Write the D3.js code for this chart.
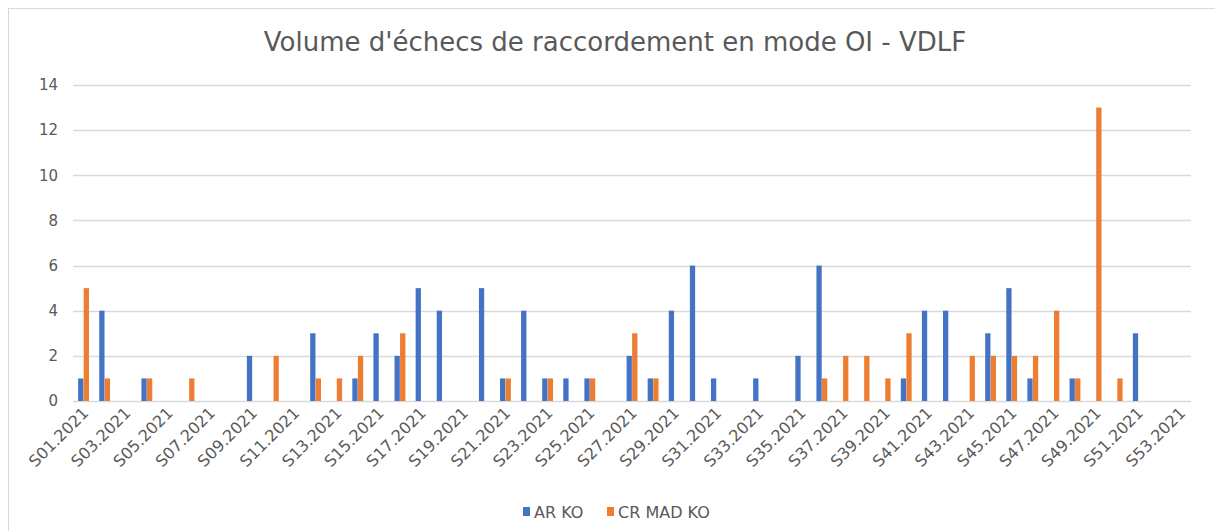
<!DOCTYPE html>
<html lang="fr">
<head>
<meta charset="UTF-8">
<title>Volume d'échecs de raccordement</title>
<script src="https://d3js.org/d3.v7.min.js"></script>
<style>
  body { margin: 0; background: #fff; }
  text { font-family: "DejaVu Sans", sans-serif; fill: #595959; }
</style>
</head>
<body>
<div id="chart"></div>
<script>
// weeks S01..S53 of 2021
const weeks = d3.range(1, 54).map(i => `S${String(i).padStart(2, '0')}.2021`);
const seriesNames = ['AR KO', 'CR MAD KO'];
const seriesColors = ['#4472C4', '#ED7D31'];

//                 S01                          S11                           S21                           S31                           S41                           S51
const arKo    = [1,4,0,1,0,0,0,0,2,0, 0,3,0,1,3,2,5,4,0,5, 1,4,1,1,1,0,2,1,4,6, 1,0,1,0,2,6,0,0,0,1, 4,4,0,3,5,1,0,1,0,0, 3,0,0];
const crMadKo = [5,1,0,1,0,1,0,0,0,2, 0,1,1,2,0,3,0,0,0,0, 1,0,1,0,1,0,3,1,0,0, 0,0,0,0,0,1,2,2,1,3, 0,0,2,2,2,2,4,1,13,1, 0,0,0];
const yTicks = [0, 2, 4, 6, 8, 10, 12, 14];

const width = 1215, height = 531;
const margin = {top: 85, right: 24, bottom: 131, left: 73};

const svg = d3.select('#chart').append('svg')
    .attr('width', width)
    .attr('height', height);

// chart frame
svg.append('rect')
    .attr('x', 8.5).attr('y', 8.5)
    .attr('width', width + 10).attr('height', height + 10)
    .attr('fill', '#fff')
    .attr('stroke', '#d9d9d9');

svg.append('text')
    .attr('x', 615).attr('y', 51)
    .attr('text-anchor', 'middle')
    .style('font-size', '26px')
    .text("Volume d'échecs de raccordement en mode OI - VDLF");

const x0 = d3.scaleBand()
    .domain(weeks)
    .range([margin.left, width - margin.right])
    .paddingInner(0.46)
    .paddingOuter(0.23);

const x1 = d3.scaleBand()
    .domain(seriesNames)
    .range([0, x0.bandwidth()])
    .padding(0.05);

const y = d3.scaleLinear()
    .domain([0, 14])
    .range([height - margin.bottom + 1, margin.top]);

// gridlines
svg.append('g')
    .selectAll('line')
    .data(yTicks)
    .join('line')
    .attr('x1', margin.left)
    .attr('x2', width - margin.right)
    .attr('y1', d => Math.round(y(d)) + 0.5)
    .attr('y2', d => Math.round(y(d)) + 0.5)
    .attr('stroke', '#d9d9d9')
    .attr('stroke-width', 1.5);

// y labels
svg.append('g')
    .selectAll('text')
    .data(yTicks)
    .join('text')
    .attr('x', 58)
    .attr('y', d => y(d))
    .attr('dy', '0.35em')
    .attr('text-anchor', 'end')
    .style('font-size', '15px')
    .text(d => d);

// bars
const rows = weeks.map((w, i) => ({week: w, values: [arKo[i], crMadKo[i]]}));

svg.append('g')
    .selectAll('g')
    .data(rows)
    .join('g')
    .attr('transform', d => `translate(${x0(d.week)},0)`)
    .selectAll('rect')
    .data(d => d.values.map((v, k) => ({name: seriesNames[k], value: v, k})))
    .join('rect')
    .filter(d => d.value > 0)
    .attr('x', d => x1(d.name))
    .attr('y', d => y(d.value))
    .attr('width', x1.bandwidth())
    .attr('height', d => y(0) - y(d.value))
    .attr('fill', d => seriesColors[d.k]);

// x labels, every other week
svg.append('g')
    .selectAll('text')
    .data(weeks.filter((w, i) => i % 2 === 0))
    .join('text')
    .attr('transform', d => `translate(${x0(d) + x0.bandwidth() / 2 + 6},${y(0) + 13}) rotate(-45)`)
    .attr('text-anchor', 'end')
    .style('font-size', '16px')
    .text(d => d);

// legend
const legend = svg.append('g')
    .attr('transform', 'translate(523,512)');
const legendX = [0, 84];
seriesNames.forEach((name, k) => {
    const g = legend.append('g').attr('transform', `translate(${legendX[k]},0)`);
    g.append('rect')
        .attr('x', 0).attr('y', -5)
        .attr('width', 7).attr('height', 9)
        .attr('fill', seriesColors[k]);
    g.append('text')
        .attr('x', 11).attr('y', 0)
        .attr('dy', '0.35em')
        .style('font-size', '16px')
        .text(name);
});
</script>
</body>
</html>
